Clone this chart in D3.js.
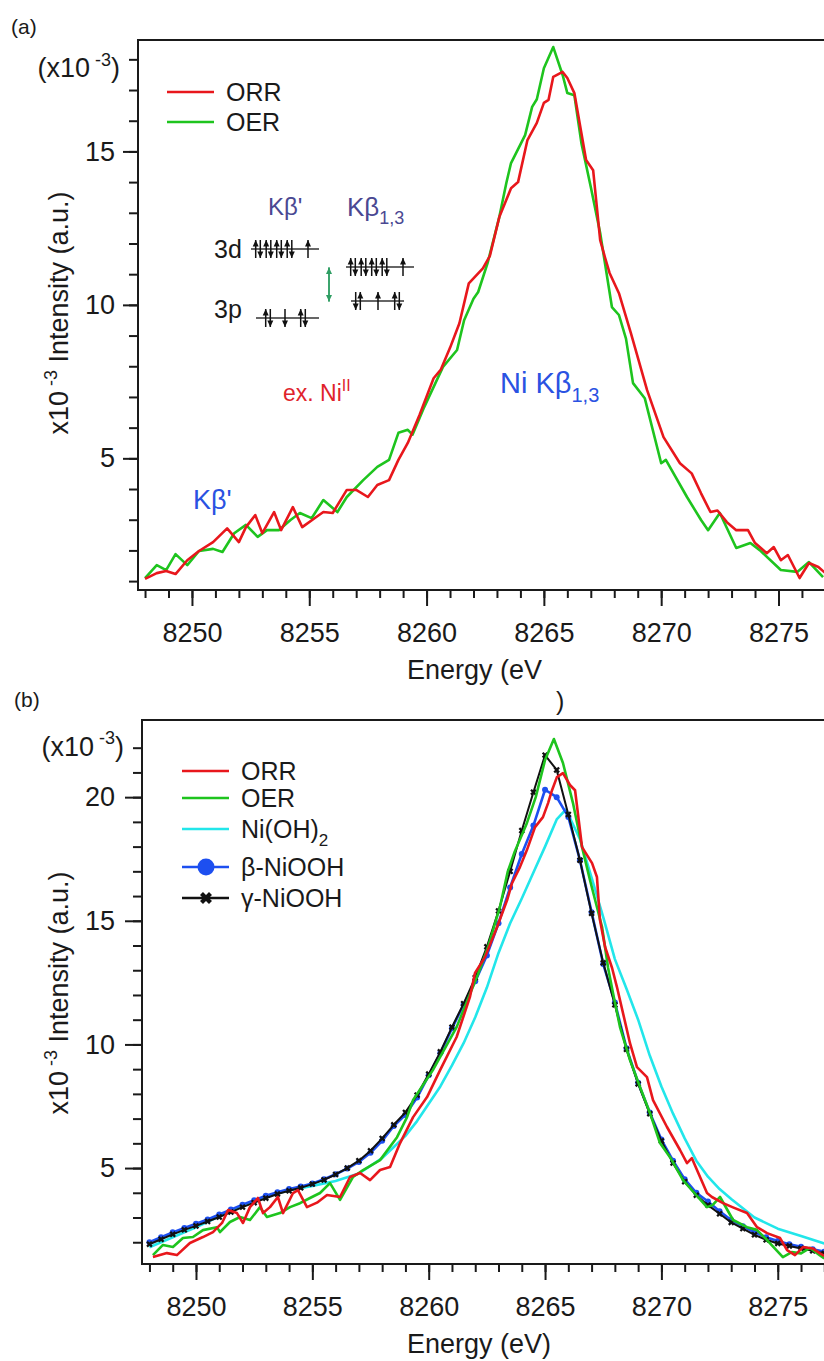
<!DOCTYPE html>
<html>
<head>
<meta charset="utf-8">
<script src="https://cdn.jsdelivr.net/npm/d3@7"></script>
<style>
	body { margin: 0; background: #fff; }
	svg { display: block; font-family: 'Liberation Sans', Arial, Helvetica, sans-serif; }
</style>
</head>
<body>
<div id="chart"></div>
<script>
// ---- data (energy eV, intensity x10^-3) ----
// panel (a)
const orrA = [[8248.0, 1.07], [8248.5, 1.26], [8248.9, 1.33], [8249.3, 1.23], [8249.8, 1.68], [8250.3, 1.98], [8250.9, 2.27], [8251.5, 2.72], [8252.0, 2.27], [8252.3, 2.76], [8252.7, 3.15], [8253.0, 2.56], [8253.5, 3.25], [8253.8, 2.66], [8254.3, 3.41], [8254.7, 2.76], [8255.3, 3.09], [8255.6, 3.25], [8256.0, 3.22], [8256.6, 3.97], [8257.0, 3.97], [8257.5, 3.74], [8257.9, 4.13], [8258.4, 4.29], [8258.8, 4.95], [8259.2, 5.50], [8259.7, 6.41], [8260.3, 7.61], [8260.6, 7.88], [8261.0, 8.60], [8261.4, 9.40], [8261.8, 10.70], [8262.4, 11.19], [8262.7, 11.60], [8263.1, 12.86], [8263.6, 13.80], [8263.9, 14.00], [8264.3, 15.37], [8264.7, 15.93], [8265.0, 16.58], [8265.2, 16.68], [8265.4, 17.43], [8265.8, 17.59], [8266.0, 17.39], [8266.3, 16.90], [8266.8, 14.72], [8267.1, 14.39], [8267.4, 12.11], [8267.6, 11.56], [8267.8, 11.04], [8268.2, 10.38], [8268.7, 9.10], [8269.4, 7.22], [8270.1, 5.69], [8270.8, 4.84], [8271.3, 4.51], [8271.7, 3.86], [8272.1, 3.25], [8272.4, 3.30], [8272.8, 2.92], [8273.2, 2.66], [8273.7, 2.66], [8274.0, 2.24], [8274.5, 1.91], [8274.8, 2.11], [8275.1, 1.68], [8275.4, 1.85], [8275.9, 1.10], [8276.3, 1.59], [8276.7, 1.46], [8277.0, 1.26]];
const oerA = [[8248.0, 1.10], [8248.5, 1.52], [8248.9, 1.36], [8249.3, 1.88], [8249.8, 1.52], [8250.3, 1.98], [8250.9, 2.05], [8251.3, 1.95], [8251.8, 2.56], [8252.3, 2.83], [8252.8, 2.44], [8253.2, 2.66], [8253.7, 2.66], [8254.2, 2.99], [8254.6, 3.22], [8255.1, 3.05], [8255.6, 3.64], [8256.2, 3.25], [8256.6, 3.74], [8257.3, 4.29], [8257.9, 4.72], [8258.4, 4.95], [8258.8, 5.83], [8259.2, 5.93], [8259.4, 5.77], [8259.9, 6.67], [8260.7, 7.98], [8261.3, 8.53], [8261.6, 9.50], [8262.0, 10.20], [8262.2, 10.42], [8262.6, 11.36], [8263.1, 12.86], [8263.4, 13.97], [8263.6, 14.62], [8264.2, 15.53], [8264.5, 16.45], [8264.7, 16.70], [8265.0, 17.71], [8265.4, 18.40], [8265.8, 17.49], [8266.0, 16.90], [8266.3, 16.83], [8266.6, 15.27], [8267.0, 13.84], [8267.4, 12.34], [8267.9, 9.93], [8268.2, 9.67], [8268.5, 8.90], [8268.8, 7.45], [8269.3, 6.96], [8270.0, 4.84], [8270.2, 4.95], [8271.1, 3.74], [8271.7, 2.99], [8272.0, 2.66], [8272.5, 3.22], [8273.2, 2.08], [8273.8, 2.24], [8274.2, 2.01], [8275.1, 1.36], [8275.8, 1.30], [8276.3, 1.62], [8276.9, 1.13]];

// panel (b)
const orrB = [[8248.15, 1.40], [8248.75, 1.56], [8249.18, 1.48], [8249.74, 1.97], [8250.3, 2.21], [8250.73, 2.41], [8251.12, 2.78], [8251.38, 3.30], [8251.76, 3.18], [8252.02, 2.78], [8252.32, 3.42], [8252.66, 3.79], [8252.88, 3.18], [8253.18, 3.42], [8253.52, 3.83], [8253.74, 3.18], [8254.17, 3.99], [8254.38, 4.11], [8254.77, 3.42], [8255.2, 3.60], [8255.63, 3.91], [8256.19, 3.83], [8256.62, 4.64], [8257.05, 4.80], [8257.48, 4.51], [8257.91, 4.92], [8258.34, 5.04], [8258.77, 6.01], [8259.33, 7.06], [8259.93, 7.87], [8260.49, 8.96], [8261.2, 10.30], [8261.77, 11.91], [8261.99, 12.89], [8262.42, 13.53], [8262.94, 14.75], [8263.37, 15.84], [8263.58, 16.52], [8263.92, 17.17], [8264.22, 17.86], [8264.57, 18.79], [8264.91, 19.19], [8265.13, 19.76], [8265.3, 20.28], [8265.51, 20.81], [8265.77, 20.97], [8266.07, 20.49], [8266.29, 20.28], [8266.59, 17.98], [8267.02, 17.33], [8267.23, 16.77], [8267.36, 15.03], [8267.58, 13.94], [8267.88, 13.09], [8268.09, 12.32], [8268.65, 10.05], [8268.95, 9.08], [8269.38, 8.68], [8269.64, 7.75], [8270.24, 6.66], [8270.8, 5.73], [8271.1, 5.20], [8271.31, 5.40], [8271.66, 4.64], [8271.96, 3.99], [8272.17, 3.83], [8272.65, 3.58], [8273.1, 3.40], [8273.68, 3.18], [8274.11, 2.61], [8274.54, 2.37], [8275.1, 2.17], [8275.4, 1.68], [8275.74, 1.48], [8276.1, 1.81], [8276.5, 1.75], [8276.8, 1.56], [8277.0, 1.45]];
const oerB = [[8248.15, 1.48], [8248.58, 1.89], [8249.01, 1.81], [8249.44, 2.17], [8249.87, 2.21], [8250.3, 2.49], [8250.9, 2.61], [8251.03, 2.41], [8251.46, 2.82], [8251.89, 3.02], [8252.32, 2.90], [8252.75, 3.42], [8253.05, 3.02], [8253.61, 3.18], [8254.04, 3.42], [8254.47, 3.58], [8254.9, 3.79], [8255.33, 3.99], [8255.76, 4.39], [8256.19, 3.71], [8256.75, 4.64], [8257.18, 4.92], [8257.91, 5.32], [8258.64, 6.25], [8259.07, 7.06], [8259.33, 7.75], [8260.18, 8.96], [8261.2, 10.70], [8262.1, 12.80], [8262.55, 13.94], [8263.06, 15.55], [8263.4, 17.00], [8263.7, 17.80], [8264.2, 18.90], [8264.6, 20.00], [8265.0, 21.50], [8265.38, 22.35], [8265.77, 21.38], [8266.2, 19.76], [8266.59, 17.98], [8266.93, 16.65], [8267.45, 14.75], [8267.71, 13.09], [8267.92, 12.08], [8268.22, 10.70], [8268.65, 9.37], [8269.08, 8.28], [8269.51, 7.22], [8269.94, 6.01], [8270.37, 5.44], [8270.93, 4.51], [8271.5, 3.90], [8271.96, 3.42], [8272.2, 3.50], [8272.52, 3.83], [8273.08, 2.90], [8273.68, 2.61], [8274.1, 2.50], [8274.54, 2.09], [8275.22, 1.40], [8275.6, 1.60], [8276.0, 1.55], [8276.39, 1.77], [8276.8, 1.48], [8277.0, 1.35]];
const niOH2 = [[8248, 1.80], [8249, 2.20], [8250, 2.60], [8251, 3.05], [8252, 3.45], [8253, 3.85], [8254, 4.10], [8255, 4.28], [8256, 4.48], [8257, 4.78], [8258, 5.40], [8258.5, 5.85], [8259, 6.30], [8259.5, 6.90], [8260, 7.60], [8260.5, 8.30], [8261, 9.15], [8261.5, 10.05], [8262, 11.10], [8262.5, 12.30], [8263, 13.70], [8263.5, 14.90], [8264, 15.90], [8264.5, 16.95], [8265, 18.00], [8265.5, 19.10], [8265.9, 19.50], [8266.5, 18.30], [8267, 16.75], [8267.5, 15.15], [8268, 13.45], [8268.5, 12.25], [8269, 11.00], [8269.5, 9.55], [8270, 8.30], [8270.5, 7.20], [8271, 6.20], [8271.5, 5.30], [8272, 4.65], [8272.5, 4.15], [8273, 3.75], [8274, 3.00], [8275, 2.55], [8276, 2.25], [8277, 1.95]];
const refEnergies = [8248, 8248.5, 8249, 8249.5, 8250, 8250.5, 8251, 8251.5, 8252, 8252.5, 8253, 8253.5, 8254, 8254.5, 8255, 8255.5, 8256, 8256.5, 8257, 8257.5, 8258, 8258.5, 8259, 8259.5, 8260, 8260.5, 8261, 8261.5, 8262, 8262.5, 8263, 8263.5, 8264, 8264.5, 8265, 8265.5, 8266, 8266.5, 8267, 8267.5, 8268, 8268.5, 8269, 8269.5, 8270, 8270.5, 8271, 8271.5, 8272, 8272.5, 8273, 8273.5, 8274, 8274.5, 8275, 8275.5, 8276, 8276.5, 8277];
const betaNiOOH = [2.00, 2.20, 2.40, 2.58, 2.75, 2.92, 3.12, 3.32, 3.52, 3.70, 3.88, 4.02, 4.15, 4.25, 4.38, 4.55, 4.75, 4.98, 5.25, 5.62, 6.10, 6.70, 7.15, 7.85, 8.75, 9.65, 10.65, 11.60, 12.55, 13.60, 14.90, 16.35, 17.70, 18.85, 20.30, 20.00, 19.20, 17.45, 15.35, 13.25, 11.70, 9.85, 8.45, 7.25, 6.15, 5.30, 4.55, 4.00, 3.65, 3.25, 2.90, 2.65, 2.40, 2.20, 2.05, 1.92, 1.82, 1.72, 1.62];
const gammaNiOOH = [1.92, 2.12, 2.32, 2.50, 2.66, 2.84, 3.02, 3.22, 3.42, 3.60, 3.78, 3.95, 4.08, 4.20, 4.35, 4.52, 4.74, 5.00, 5.30, 5.70, 6.20, 6.75, 7.25, 7.95, 8.80, 9.70, 10.70, 11.65, 12.70, 13.95, 15.40, 17.00, 18.65, 20.20, 21.70, 21.10, 19.30, 17.45, 15.30, 13.30, 11.60, 9.80, 8.40, 7.20, 6.10, 5.20, 4.45, 3.90, 3.50, 3.15, 2.80, 2.55, 2.30, 2.10, 1.95, 1.85, 1.75, 1.65, 1.55];

// axis ticks
const xTicks = [8250, 8255, 8260, 8265, 8270, 8275];
const yTicksA = [5, 10, 15];
const yTicksB = [5, 10, 15, 20];

const colors = {
	'ORR': '#e8171c',
	'OER': '#1ec41e',
	'Ni(OH)2': '#22e6ea',
	'β-NiOOH': '#1d4ff0',
	'γ-NiOOH': '#111111',
};

const svg = d3.select('#chart').append('svg')
	.attr('width', 824)
	.attr('height', 1361);

// text with sub / superscript parts
function richText(sel, parts, size) {
	let prev = 0;
	parts.forEach(([str, kind]) => {
		const shift = kind === 'sub' ? 0.3 * size : (kind === 'sup' ? -0.42 * size : 0);
		sel.append('tspan')
			.attr('dy', shift - prev)
			.style('font-size', kind ? `${Math.round(size * 0.68)}px` : null)
			.text(str);
		prev = shift;
	});
	return sel;
}

function buildPanel(p) {
	const x = d3.scaleLinear().domain(p.xDomain).range([p.left, p.right]);
	const y = d3.scaleLinear().domain(p.yDomain).range([p.bottom, p.top]);
	const g = svg.append('g');

	g.append('clipPath')
		.attr('id', `clip-${p.id}`)
		.append('rect')
			.attr('x', p.left)
			.attr('y', p.top)
			.attr('width', p.right - p.left)
			.attr('height', p.bottom - p.top);

	const styleAxis = (sel) => {
		sel.attr('font-family', null).attr('font-size', null);
		sel.select('.domain').remove();
		sel.selectAll('line').style('stroke', '#1a1a1a').style('stroke-width', 2);
		sel.selectAll('text').style('font-size', '27px').style('fill', '#1a1a1a');
	};

	// x axis: minor every 1 eV, major every 5 eV
	g.append('g')
		.attr('transform', `translate(0, ${p.bottom})`)
		.call(d3.axisBottom(x).tickValues(d3.range(8248, 8278)).tickSize(8).tickFormat(''))
		.call(styleAxis);
	g.append('g')
		.attr('transform', `translate(0, ${p.bottom})`)
		.call(d3.axisBottom(x).tickValues(xTicks).tickSize(16).tickPadding(17).tickFormat(d3.format('d')))
		.call(styleAxis);

	// y axis
	g.append('g')
		.attr('transform', `translate(${p.left}, 0)`)
		.call(d3.axisLeft(y).tickValues(p.yMinor).tickSize(9).tickFormat(''))
		.call(styleAxis);
	g.append('g')
		.attr('transform', `translate(${p.left}, 0)`)
		.call(d3.axisLeft(y).tickValues(p.yTicks).tickSize(p.majorLen).tickPadding(p.labelPad).tickFormat(d3.format('d')))
		.call(styleAxis);

	// frame (left, bottom, top)
	g.append('path')
		.attr('d', `M${p.right},${p.top}H${p.left}V${p.bottom}H${p.right}`)
		.style('fill', 'none')
		.style('stroke', '#1a1a1a')
		.style('stroke-width', 2);

	// (x10-3) unit label on the top minor tick
	const unit = g.append('text')
		.attr('x', p.left - 18)
		.attr('y', y(p.unitTick) + p.unitDy)
		.attr('text-anchor', 'end')
		.style('font-size', '27px')
		.style('fill', '#1a1a1a');
	richText(unit, [['(x10', null], ['\u00a0-3', 'sup'], [')', null]], 27);

	// y title
	const yTitle = g.append('text')
		.attr('transform', `translate(68, ${p.titleY}) rotate(-90)`)
		.attr('text-anchor', 'middle')
		.style('font-size', '27px')
		.style('fill', '#1a1a1a');
	richText(yTitle, [['x10', null], ['\u00a0-3', 'sup'], ['\u00a0Intensity (a.u.)', null]], 27);

	// panel tag
	g.append('text')
		.attr('x', p.tagX)
		.attr('y', p.tagY)
		.style('font-size', '21px')
		.style('fill', '#1a1a1a')
		.text(p.tag);

	// curves
	const line = d3.line()
		.x(d => x(d[0]))
		.y(d => y(d[1]));
	const plot = g.append('g').attr('clip-path', `url(#clip-${p.id})`);

	p.series.forEach(s => {
		plot.append('path')
			.datum(s.data)
			.attr('d', line)
			.style('fill', 'none')
			.style('stroke', colors[s.name])
			.style('stroke-width', s.width)
			.style('stroke-linejoin', 'round');
		if (s.marker === 'circle') {
			plot.append('g').selectAll('circle')
				.data(s.data)
				.enter()
				.append('circle')
					.attr('cx', d => x(d[0]))
					.attr('cy', d => y(d[1]))
					.attr('r', 3)
					.style('fill', colors[s.name]);
		} else if (s.marker === 'cross') {
			plot.append('g').selectAll('path')
				.data(s.data)
				.enter()
				.append('path')
					.attr('transform', d => `translate(${x(d[0])}, ${y(d[1])}) rotate(45)`)
					.attr('d', d3.symbol(d3.symbolCross, 26))
					.style('fill', colors[s.name]);
		}
	});

	// legend
	const legend = g.append('g')
		.selectAll('g')
		.data(p.series.slice().sort((a, b) => a.legendOrder - b.legendOrder))
		.enter()
		.append('g')
			.attr('transform', (d, i) => `translate(${p.legendX}, ${p.legendRows[i]})`);

	legend.append('line')
		.attr('x1', 0)
		.attr('x2', 47)
		.style('stroke', d => colors[d.name])
		.style('stroke-width', 2.5);
	legend.filter(d => d.marker === 'circle')
		.append('circle')
			.attr('cx', 24)
			.attr('r', 8.5)
			.style('fill', d => colors[d.name]);
	legend.filter(d => d.marker === 'cross')
		.append('path')
			.attr('transform', 'translate(24, 0) rotate(45)')
			.attr('d', d3.symbol(d3.symbolCross, 90))
			.style('fill', d => colors[d.name]);
	legend.append('text')
		.attr('x', 59)
		.attr('y', 9)
		.style('font-size', '25px')
		.style('fill', '#1a1a1a')
		.each(function(d) {
			if (d.name === 'Ni(OH)2') {
				richText(d3.select(this), [['Ni(OH)', null], ['2', 'sub']], 25);
			} else {
				d3.select(this).text(d.name);
			}
		});

	return { g, x, y };
}

// ---- panel (a) ----
const panelA = buildPanel({
	id: 'a',
	left: 138, right: 825.4, top: 40, bottom: 590,
	xDomain: [8247.7, 8277], yDomain: [0.71, 18.63],
	yTicks: yTicksA, yMinor: d3.range(1, 19),
	majorLen: 15, labelPad: 8,
	unitTick: 18, unitDy: 18,
	titleY: 313, tag: '(a)', tagX: 11, tagY: 34,
	legendX: 167, legendRows: [92, 122],
	series: [
		{ name: 'OER', data: oerA, width: 2.6, legendOrder: 1 },
		{ name: 'ORR', data: orrA, width: 2.6, legendOrder: 0 },
	],
});

// x title with the stray parenthesis as in the figure
panelA.g.append('text')
	.attr('x', 407)
	.attr('y', 679)
	.style('font-size', '27px')
	.style('fill', '#1a1a1a')
	.text('Energy (eV');
panelA.g.append('text')
	.attr('x', 556)
	.attr('y', 710)
	.style('font-size', '25px')
	.style('fill', '#1a1a1a')
	.text(')');

// annotations of panel (a)
const blueText = '#2a52e2';
const insetText = '#4a4892';

panelA.g.append('text')
	.attr('x', 193).attr('y', 509)
	.style('font-size', '27px')
	.style('fill', blueText)
	.text('Kβ\'');
richText(panelA.g.append('text')
	.attr('x', 500).attr('y', 393)
	.style('font-size', '29px')
	.style('fill', blueText), [['Ni Kβ', null], ['1,3', 'sub']], 29);
richText(panelA.g.append('text')
	.attr('x', 283).attr('y', 401)
	.style('font-size', '23px')
	.style('fill', '#e0232b'), [['ex. Ni', null], ['II', 'sup']], 23);

// level diagram inset
const inset = panelA.g.append('g');
inset.append('text')
	.attr('x', 268).attr('y', 215)
	.style('font-size', '24px')
	.style('fill', insetText)
	.text('Kβ\'');
richText(inset.append('text')
	.attr('x', 347).attr('y', 216)
	.style('font-size', '26px')
	.style('fill', insetText), [['Kβ', null], ['1,3', 'sub']], 26);
inset.append('text')
	.attr('x', 214).attr('y', 258)
	.style('font-size', '25px')
	.style('fill', '#1a1a1a')
	.text('3d');
inset.append('text')
	.attr('x', 214).attr('y', 318)
	.style('font-size', '25px')
	.style('fill', '#1a1a1a')
	.text('3p');

// orbitals: level line and spins ('ud' pair, 'du' pair, 'u', 'd')
const levels = [
	{ x1: 251, x2: 319, y: 249, spins: [[258, 'ud'], [268.5, 'ud'], [279, 'ud'], [289.5, 'ud'], [308, 'u']] },
	{ x1: 256, x2: 319, y: 318, spins: [[268, 'ud'], [285, 'd'], [303, 'ud']] },
	{ x1: 346, x2: 414, y: 267, spins: [[353, 'ud'], [363.5, 'ud'], [374, 'ud'], [384.5, 'ud'], [403, 'u']] },
	{ x1: 351, x2: 404, y: 301, spins: [[358, 'du'], [378, 'u'], [397, 'ud']] },
];

function spinArrow(sel, x, yc, up, color = '#111', half = 9) {
	const tip = up ? yc - half : yc + half;
	const tail = up ? yc + half : yc - half;
	const s = up ? 1 : -1;
	sel.append('line')
		.attr('x1', x).attr('x2', x)
		.attr('y1', tail).attr('y2', tip)
		.style('stroke', color)
		.style('stroke-width', 1.5);
	sel.append('path')
		.attr('d', `M${x},${tip}L${x - 3},${tip + 6.5 * s}L${x + 3},${tip + 6.5 * s}Z`)
		.style('fill', color);
}

levels.forEach(l => {
	inset.append('line')
		.attr('x1', l.x1).attr('x2', l.x2)
		.attr('y1', l.y).attr('y2', l.y)
		.style('stroke', '#333')
		.style('stroke-width', 1.4);
	l.spins.forEach(([sx, kind]) => {
		if (kind === 'u') spinArrow(inset, sx, l.y, true);
		else if (kind === 'd') spinArrow(inset, sx, l.y, false);
		else {
			spinArrow(inset, sx - 2.3, l.y, kind === 'ud');
			spinArrow(inset, sx + 2.3, l.y, kind !== 'ud');
		}
	});
});

// green transition arrow
const arrowG = inset.append('g');
spinArrow(arrowG, 329, 284.5, true, '#2f9e63', 17);
spinArrow(arrowG, 329, 284.5, false, '#2f9e63', 17);

// ---- panel (b) ----
const refPairs = vals => vals.map((v, i) => [refEnergies[i], v]);

const panelB = buildPanel({
	id: 'b',
	left: 142, right: 824.3, top: 720, bottom: 1264,
	xDomain: [8247.68, 8277], yDomain: [1.12, 23.12],
	yTicks: yTicksB, yMinor: d3.range(2, 23),
	majorLen: 17, labelPad: 10,
	unitTick: 22, unitDy: 8,
	titleY: 993, tag: '(b)', tagX: 14, tagY: 707,
	legendX: 182, legendRows: [771, 798, 829, 867, 898],
	series: [
		{ name: 'Ni(OH)2', data: niOH2, width: 2.6, legendOrder: 2 },
		{ name: 'β-NiOOH', data: refPairs(betaNiOOH), width: 2.6, marker: 'circle', legendOrder: 3 },
		{ name: 'γ-NiOOH', data: refPairs(gammaNiOOH), width: 2, marker: 'cross', legendOrder: 4 },
		{ name: 'OER', data: oerB, width: 2.6, legendOrder: 1 },
		{ name: 'ORR', data: orrB, width: 2.6, legendOrder: 0 },
	],
});

panelB.g.append('text')
	.attr('x', 407)
	.attr('y', 1353)
	.style('font-size', '27px')
	.style('fill', '#1a1a1a')
	.text('Energy (eV)');
</script>
</body>
</html>
